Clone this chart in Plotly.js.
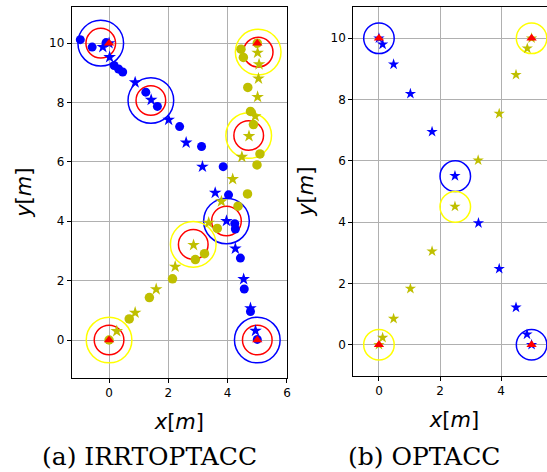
<!DOCTYPE html>
<html>
<head>
<meta charset="utf-8">
<script src="https://cdn.plot.ly/plotly-3.0.1.min.js"></script>
<style>
  html, body { margin: 0; padding: 0; overflow: hidden; background: #fff; }
  #chart { width: 557px; height: 472px; }
</style>
</head>
<body>
<div id="chart"></div>
<script>
// ---------- (a) IRRTOPTACC : executed positions (dots) and waypoints (stars) ----------
const irrBlueDotX  = [-0.97, -0.57, -0.10, 0.17, 0.32, 0.46, 1.24, 1.63, 2.38, 3.12, 3.85, 4.03, 4.24, 4.26, 4.43, 4.56, 4.77, 5.00];
const irrBlueDotY  = [10.12, 9.87, 10.02, 9.25, 9.13, 9.03, 8.35, 7.87, 7.19, 6.52, 5.84, 4.89, 3.92, 3.74, 2.76, 1.72, 0.96, 0.02];
const irrBlueStarX = [-0.21, 0.00, 0.02, 0.88, 1.42, 2.01, 2.60, 3.15, 3.58, 3.96, 4.26, 4.54, 4.77, 4.94];
const irrBlueStarY = [9.87, 10.00, 9.53, 8.68, 8.09, 7.42, 6.65, 5.84, 4.96, 4.01, 3.08, 2.05, 1.07, 0.31];

const irrYellowDotX  = [5.00, 4.45, 4.53, 4.68, 4.77, 4.87, 5.09, 4.99, 4.67, 4.35, 3.65, 3.22, 2.91, 2.14, 1.36, 0.68, 0.00];
const irrYellowDotY  = [10.00, 9.80, 9.52, 8.51, 7.70, 7.26, 6.27, 5.90, 4.92, 4.51, 3.76, 2.91, 2.71, 2.06, 1.43, 0.71, 0.00];
const irrYellowStarX = [5.01, 5.06, 5.04, 5.01, 4.93, 4.72, 4.48, 4.17, 3.79, 3.36, 2.85, 2.23, 1.59, 0.88, 0.26];
const irrYellowStarY = [9.68, 9.29, 8.81, 8.19, 7.54, 6.87, 6.17, 5.42, 4.67, 3.95, 3.20, 2.47, 1.71, 0.92, 0.30];

// agent snapshots (body + safety radius)
const irrBlueSnapX   = [-0.28, 1.41, 3.96, 5.00];
const irrBlueSnapY   = [10.00, 8.07, 4.01, 0.00];
const irrYellowSnapX = [5.03, 4.71, 2.84, 0.00];
const irrYellowSnapY = [9.70, 6.89, 3.22, 0.00];
const bodyRadius   = 0.5;
const safetyRadius = 0.77;

// ---------- (b) OPTACC ----------
const optBlueX   = [0.00, 0.12, 0.48, 1.03, 1.74, 2.49, 3.26, 3.94, 4.49, 4.85, 5.00];
const optBlueY   = [10.00, 9.80, 9.15, 8.19, 6.95, 5.51, 3.97, 2.48, 1.22, 0.34, 0.00];
const optYellowX = [5.00, 4.86, 4.49, 3.94, 3.25, 2.49, 1.74, 1.03, 0.48, 0.12, 0.00];
const optYellowY = [10.00, 9.67, 8.81, 7.54, 6.02, 4.51, 3.05, 1.83, 0.85, 0.23, 0.00];
const optBlueSnapX   = [0.0, 2.5, 5.0];
const optBlueSnapY   = [10.0, 5.5, 0.0];
const optYellowSnapX = [5.0, 2.5, 0.0];
const optYellowSnapY = [10.0, 4.5, 0.0];
const optRadius = 0.5;

// start / goal positions shared by both scenarios
const endpointX = [0, 5, 0, 5];
const endpointY = [10, 10, 0, 0];

const captions = ['(a) IRRTOPTACC', '(b) OPTACC'];
const tickVals = [0, 2, 4, 6, 8, 10];

const BLUE = '#0000ff', OLIVE = '#bfbf00', RED = '#ff0000', YELLOW = '#ffff00';

function pts(xs, ys, symbol, color, size, xa, ya) {
  return { type: 'scatter', mode: 'markers', x: xs, y: ys, xaxis: xa, yaxis: ya,
           hoverinfo: 'skip', showlegend: false,
           marker: { symbol: symbol, color: color, size: size, line: { width: 0 } } };
}

const traces = [
  pts(irrBlueDotX, irrBlueDotY, 'circle', BLUE, 9, 'x', 'y'),
  pts(irrBlueStarX, irrBlueStarY, 'star', BLUE, 9.5, 'x', 'y'),
  pts(irrYellowDotX, irrYellowDotY, 'circle', OLIVE, 9.5, 'x', 'y'),
  pts(irrYellowStarX, irrYellowStarY, 'star', OLIVE, 9.5, 'x', 'y'),
  pts(endpointX, endpointY, 'triangle-up', RED, 9, 'x', 'y'),
  pts(optBlueX, optBlueY, 'star', BLUE, 8.5, 'x2', 'y2'),
  pts(optYellowX, optYellowY, 'star', OLIVE, 8.5, 'x2', 'y2'),
  pts(endpointX, endpointY, 'triangle-up', RED, 9, 'x2', 'y2')
];

function rings(xs, ys, r, color, xa, ya) {
  return xs.map((cx, i) => ({
    type: 'circle', xref: xa, yref: ya, layer: 'between',
    x0: cx - r, x1: cx + r, y0: ys[i] - r, y1: ys[i] + r,
    line: { color: color, width: 1.5 }, fillcolor: 'rgba(0,0,0,0)'
  }));
}

const shapes = [].concat(
  rings(irrBlueSnapX, irrBlueSnapY, safetyRadius, BLUE, 'x', 'y'),
  rings(irrYellowSnapX, irrYellowSnapY, safetyRadius, YELLOW, 'x', 'y'),
  rings(irrBlueSnapX, irrBlueSnapY, bodyRadius, RED, 'x', 'y'),
  rings(irrYellowSnapX, irrYellowSnapY, bodyRadius, RED, 'x', 'y'),
  rings(optBlueSnapX, optBlueSnapY, optRadius, BLUE, 'x2', 'y2'),
  rings(optYellowSnapX, optYellowSnapY, optRadius, YELLOW, 'x2', 'y2')
);

const tickFont = { family: 'DejaVu Sans', size: 12, color: '#000' };
const titleFont = { family: 'DejaVu Sans', size: 21, color: '#000' };

function axis(extra) {
  return Object.assign({
    showline: true, linecolor: '#000', linewidth: 1, mirror: true,
    ticks: 'outside', ticklen: 4, tickcolor: '#000', tickwidth: 1,
    showgrid: true, gridcolor: '#b0b0b0', gridwidth: 1, zeroline: false,
    tickmode: 'array', tickvals: tickVals, tickfont: tickFont,
    fixedrange: true
  }, extra);
}

const layout = {
  width: 557, height: 472,
  margin: { l: 30, r: 1, t: 6, b: 60 },
  paper_bgcolor: '#fff', plot_bgcolor: '#fff',
  showlegend: false,
  xaxis:  axis({ domain: [0.07928, 0.48859], range: [-1.26, 6.002], anchor: 'y',
                 title: { text: '<i>x</i>[<i>m</i>]', font: titleFont, standoff: 15 } }),
  yaxis:  axis({ domain: [0.08448, 0.99828], range: [-1.27, 11.23], anchor: 'x',
                 title: { text: '<i>y</i>[<i>m</i>]', font: titleFont, standoff: 11 } }),
  xaxis2: axis({ domain: [0.61464, 0.99943], range: [-0.84, 5.79], anchor: 'y2',
                 title: { text: '<i>x</i>[<i>m</i>]', font: titleFont, standoff: 15 } }),
  yaxis2: axis({ domain: [0.08941, 0.99828], range: [-1.01, 11.03], anchor: 'x2',
                 title: { text: '<i>y</i>[<i>m</i>]', font: titleFont, standoff: 11 } }),
  shapes: shapes,
  annotations: [
    { text: captions[0], xref: 'paper', yref: 'paper', x: 0.2281, y: -0.1101,
      xanchor: 'center', yanchor: 'middle', showarrow: false,
      font: { family: 'DejaVu Serif', size: 25, color: '#000' } },
    { text: captions[1], xref: 'paper', yref: 'paper', x: 0.7490, y: -0.1101,
      xanchor: 'center', yanchor: 'middle', showarrow: false,
      font: { family: 'DejaVu Serif', size: 25, color: '#000' } }
  ]
};

Plotly.newPlot('chart', traces, layout, { staticPlot: true, displayModeBar: false });
</script>
</body>
</html>
